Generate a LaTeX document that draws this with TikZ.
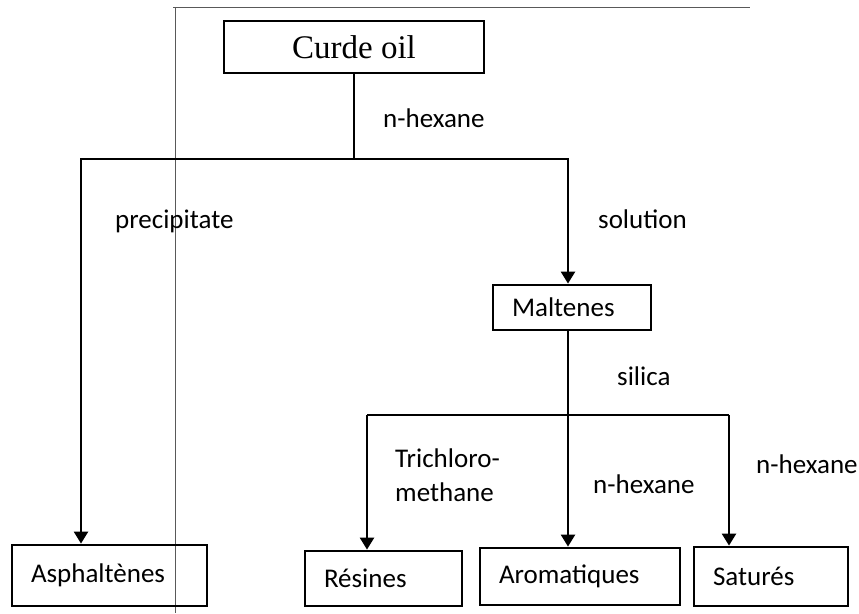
\documentclass[tikz,border=0pt]{standalone}
\usepackage{fontspec}
\setmainfont{Carlito}
\newfontfamily\titlefont{Liberation Serif}
\usetikzlibrary{
  arrows.meta,
  positioning
}

\begin{document}
\begin{tikzpicture}[
  x=1pt, y=-1pt,
  every node/.style={font=\fontsize{27}{34}\selectfont, inner sep=0pt},
  box/.style={draw, line width=2.8pt, inner xsep=19pt, align=left},
  topbox/.style={draw, line width=2.8pt, align=center,
                 font=\titlefont\fontsize{33}{38}\selectfont},
  lbl/.style={anchor=base west},
  line/.style={line width=2.4pt},
  arrow/.style={line width=2.4pt, -{Triangle[width=14pt, length=12pt]}},
  frame/.style={line width=0.8pt, gray!70!black}
]

\useasboundingbox (0,0) rectangle (859,613);

% page edges of the scanned figure
\draw[frame] (173,7) -- (750,7);
\draw[frame] (175,7) -- (175,613);

% boxes
\node[topbox, minimum width=260pt, minimum height=52pt] (crude) at (354,47) {Curde oil};
\node[box, text width=120pt, minimum height=45pt] (malt) at (572,307.5) {Maltenes};
\node[box, text width=157pt, minimum height=61pt] (asph) at (109.5,575.5) {Asphaltènes};
\node[box, text width=119pt, minimum height=55pt] (res) at (383.5,578.5) {Résines};
\node[box, text width=162pt, minimum height=57pt] (arom) at (580,576.5) {Aromatiques};
\node[box, text width=116pt, minimum height=59pt] (sat) at (771,576.5) {Saturés};

% first split
\coordinate (split1) at (354,159);
\coordinate (asphdrop) at (81,159);
\coordinate (maltdrop) at (568,159);
\draw[line] (crude.south) -- (split1);
\draw[arrow] (split1) -- (asphdrop) -- (asphdrop |- asph.north);
\draw[arrow] (split1) -- (maltdrop) -- (maltdrop |- malt.north);

% second split
\coordinate (split2) at (568,415);
\coordinate (resdrop) at (367,415);
\coordinate (satdrop) at (729,415);
\draw[line] (split2 |- malt.south) -- (split2);
\draw[line] (resdrop) -- (satdrop);
\draw[arrow] (resdrop) -- (resdrop |- res.north);
\draw[arrow] (split2) -- (split2 |- arom.north);
\draw[arrow] (satdrop) -- (satdrop |- sat.north);

% labels
\node[lbl] (hex1) at (383,127) {n-hexane};
\node[lbl] (precip) at (115,228) {precipitate};
\node[lbl] (sol) at (598,228) {solution};
\node[lbl] (sil) at (617,385) {silica};
\node[anchor=west, align=left] (trichl) at (395,475.5) {Trichloro-\\methane};
\node[lbl] (hex2) at (593,493) {n-hexane};
\node[lbl] (hex3) at (756,473) {n-hexane};

\end{tikzpicture}
\end{document}
